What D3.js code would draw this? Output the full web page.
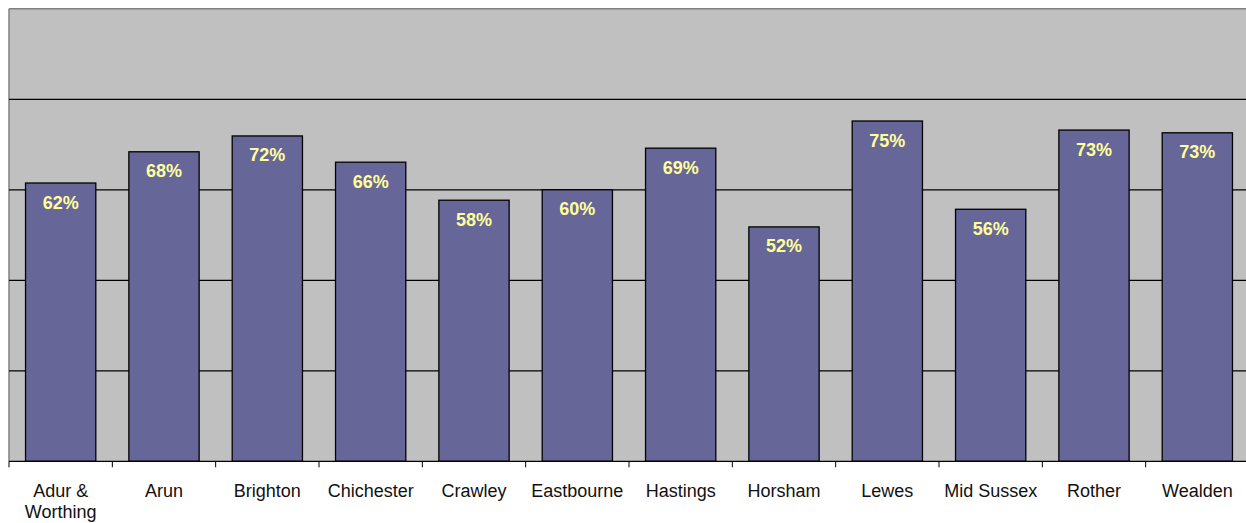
<!DOCTYPE html>
<html><head><meta charset="utf-8">
<script src="https://cdn.jsdelivr.net/npm/d3@7"></script>
<style>body{margin:0;background:#fff;}svg{display:block;}</style>
</head><body>
<svg id="chart" width="1246" height="523"></svg>
<script>
const categories = [["Adur &","Worthing"],["Arun"],["Brighton"],["Chichester"],["Crawley"],["Eastbourne"],["Hastings"],["Horsham"],["Lewes"],["Mid Sussex"],["Rother"],["Wealden"]];
const values = [61.5, 68.4, 71.9, 66.1, 57.7, 60.0, 69.2, 51.8, 75.2, 55.7, 73.2, 72.6];
const valueLabels = ["62%","68%","72%","66%","58%","60%","69%","52%","75%","56%","73%","73%"];
const yTicks = [0, 20, 40, 60, 80, 100];

(function(){
const svg = d3.select("#chart");
const pLeft = 9, pRight = 1249, pTop = 8.8, pBottom = 461.3;
const keys = categories.map((c,i)=>i);
const x = d3.scaleBand().domain(keys).range([pLeft, pRight]).paddingInner(0.32).paddingOuter(0.16);
const xTick = d3.scaleBand().domain(keys).range([pLeft, pRight]);
const y = d3.scaleLinear().domain([0,100]).range([pBottom, pTop]);

svg.append("rect").attr("x", pLeft).attr("y", y(100)).attr("width", pRight-pLeft).attr("height", pBottom-y(100)).attr("fill", "#c0c0c0");
svg.append("line").attr("x1", pLeft).attr("x2", pRight).attr("y1", y(100)).attr("y2", y(100)).attr("stroke", "#808080").attr("stroke-width", 1.5);
svg.append("line").attr("x1", pLeft).attr("x2", pLeft).attr("y1", y(100)).attr("y2", pBottom).attr("stroke", "#808080").attr("stroke-width", 1.5);

svg.append("g").selectAll("line").data(yTicks.filter(t=>t>0 && t<100)).join("line")
  .attr("x1", pLeft).attr("x2", pRight).attr("y1", d=>y(d)).attr("y2", d=>y(d))
  .attr("stroke", "#000").attr("stroke-width", 1.2);

svg.append("g").selectAll("rect").data(values).join("rect")
  .attr("x", (d,i)=>x(i)).attr("width", x.bandwidth())
  .attr("y", d=>y(d)).attr("height", d=>pBottom-y(d))
  .attr("fill", "#666699").attr("stroke", "#000").attr("stroke-width", 1.3);

svg.append("g").selectAll("text").data(values).join("text")
  .attr("x", (d,i)=>x(i)+x.bandwidth()/2).attr("y", d=>y(d)+25.5)
  .attr("text-anchor", "middle").attr("fill", "#ffff99")
  .attr("font-family", "Liberation Sans, Arial, sans-serif").attr("font-weight", "bold").attr("font-size", "18px")
  .text((d,i)=>valueLabels[i]);

const xAxis = svg.append("g").attr("transform", `translate(0,${pBottom})`);
xAxis.append("line").attr("x1", pLeft).attr("x2", pRight).attr("stroke", "#000").attr("stroke-width", 1.3);
xAxis.selectAll("line.tick").data(d3.range(0, categories.length+1)).join("line").attr("class","tick")
  .attr("x1", i=>pLeft + i*xTick.bandwidth()).attr("x2", i=>pLeft + i*xTick.bandwidth())
  .attr("y1", 0).attr("y2", 6).attr("stroke", "#000").attr("stroke-width", 1);
const labels = xAxis.selectAll("text").data(categories).join("text")
  .attr("x", (d,i)=>xTick(i)+xTick.bandwidth()/2).attr("y", 35.4)
  .attr("text-anchor", "middle").attr("fill", "#111")
  .attr("font-family", "Liberation Sans, Arial, sans-serif").attr("font-size", "18px");
labels.each(function(d){
  const t = d3.select(this);
  d.forEach((line, j)=>{
    t.append("tspan").attr("x", t.attr("x")).attr("dy", j===0?0:21.5).text(line);
  });
});
})();
</script>
</body></html>
